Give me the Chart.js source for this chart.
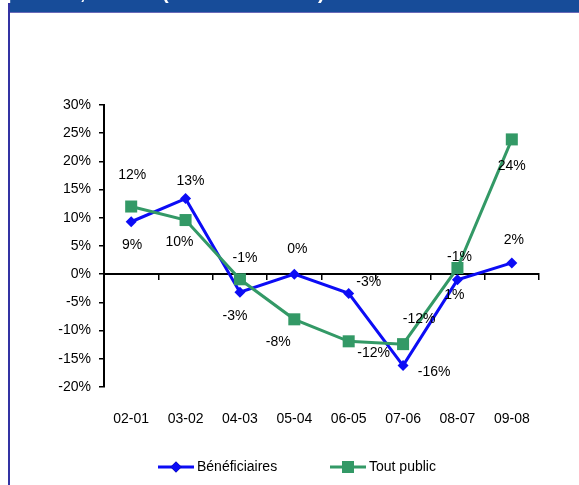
<!DOCTYPE html>
<html><head><meta charset="utf-8">
<script src="https://cdn.jsdelivr.net/npm/chart.js@4"></script>
<style>html,body{margin:0;padding:0;background:#fff;}#wrap{width:579px;height:485px;position:relative;}canvas{display:block;}</style>
</head><body><div id="wrap"><canvas id="c" width="579" height="485"></canvas></div>
<script>
const categories = ['02-01','03-02','04-03','05-04','06-05','07-06','08-07','09-08'];
const seriesNames = ['Bénéficiaires','Tout public'];
const beneficiaires = [9.3, 13.4, -3.2, 0.0, -3.4, -16.2, -1.0, 2.0];
const toutPublic = [12.0, 9.6, -0.9, -8.0, -11.9, -12.4, 1.1, 23.9];
const yMin = -20, yMax = 30, yStep = 5;

const BLUE = '#0c0cf5';
const GREEN = '#339966';
const FONT = '"Liberation Sans", Arial, sans-serif';

// label offsets (pixels, relative to the point) per dataset
const labelOffsets = [
  [[1,23],[5,-17],[-5,24],[3,-25],[20,-11],[31,7],[2,-23],[2,-23]],
  [[1,-31],[-6,22],[5,-21],[-16,23],[25,12],[16,-25],[-3,27],[0,27]]
];

const decor = {
  id: 'decor',
  beforeDraw(chart) {
    const ctx = chart.ctx;
    ctx.save();
    ctx.fillStyle = '#fff';
    ctx.fillRect(0, 0, chart.width, chart.height);
    ctx.fillStyle = '#174c99';
    ctx.fillRect(8, 0, chart.width - 8, 12);
    ctx.fillStyle = '#6a6ab8';
    ctx.fillRect(8, 12, chart.width - 8, 1);
    ctx.fillStyle = '#3333a3';
    ctx.fillRect(8, 0, 2, chart.height);
    // clipped title fragments
    ctx.fillStyle = '#fff';
    ctx.font = 'bold 20px ' + FONT;
    ctx.textBaseline = 'alphabetic';
    ctx.fillText('p', 6, -1);
    ctx.fillText(',', 80, -1);
    ctx.fillText('(', 162, -1);
    ctx.fillText(')', 318, -1);
    ctx.restore();
  },
  afterDraw(chart) {
    const ctx = chart.ctx;
    ctx.save();
    ctx.font = '14px ' + FONT;
    ctx.fillStyle = '#000';
    ctx.textAlign = 'center';
    ctx.textBaseline = 'middle';
    chart.data.datasets.forEach((ds, di) => {
      const meta = chart.getDatasetMeta(di);
      meta.data.forEach((pt, i) => {
        const v = ds.data[i];
        const off = labelOffsets[di][i];
        ctx.fillText(Math.round(v) + '%', pt.x + off[0], pt.y + off[1]);
      });
    });
    // legend
    const ly = 467;
    const items = [
      {x: 158, ds: chart.data.datasets[0]},
      {x: 330, ds: chart.data.datasets[1]}
    ];
    items.forEach(it => {
      ctx.strokeStyle = it.ds.borderColor;
      ctx.lineWidth = 3;
      ctx.beginPath();
      ctx.moveTo(it.x, ly);
      ctx.lineTo(it.x + 36, ly);
      ctx.stroke();
      Chart.helpers.drawPoint(ctx, {pointStyle: it.ds.pointStyle, radius: it.ds.pointRadius, borderWidth: 0}, it.x + 18, ly);
      ctx.fillStyle = it.ds.backgroundColor;
      ctx.fill();
      ctx.fillStyle = '#000';
      ctx.textAlign = 'left';
      ctx.fillText(it.ds.label, it.x + 39, ly);
    });
    ctx.restore();
  }
};

new Chart(document.getElementById('c'), {
  type: 'line',
  data: {
    labels: categories,
    datasets: [
      {label: seriesNames[0], data: beneficiaires, borderColor: BLUE, backgroundColor: BLUE,
       borderWidth: 3, pointStyle: 'rectRot', pointRadius: 5.5, pointBorderWidth: 0, tension: 0, order: 1, xAxisID: 'x', clip: false},
      {label: seriesNames[1], data: toutPublic, borderColor: GREEN, backgroundColor: GREEN,
       borderWidth: 3, pointStyle: 'rect', pointRadius: 8.5, pointBorderWidth: 0, tension: 0, order: 0, xAxisID: 'x', clip: false}
    ]
  },
  options: {
    responsive: false,
    devicePixelRatio: 1,
    animation: false,
    layout: {padding: {left: 0, top: 105, right: 40, bottom: 50}},
    plugins: {legend: {display: false}, tooltip: {enabled: false}},
    scales: {
      x: {
        type: 'category', position: 'bottom', offset: true,
        grid: {display: false, drawTicks: false},
        border: {display: false},
        ticks: {color: '#000', font: {family: FONT, size: 14}, padding: 24, maxRotation: 0, autoSkip: false},
        afterFit(s) { s.height = 48; }
      },
      x2: {
        type: 'category', labels: categories, position: {y: 0}, offset: true,
        grid: {drawOnChartArea: false, drawTicks: true, tickLength: 5, color: '#000', lineWidth: 1.5, offset: true},
        border: {display: true, color: '#000', width: 2},
        ticks: {display: false}
      },
      y: {
        min: yMin, max: yMax,
        grid: {drawOnChartArea: false, drawTicks: true, tickLength: 5, color: '#000', lineWidth: 1.5},
        border: {display: true, color: '#000', width: 2},
        ticks: {stepSize: yStep, color: '#000', font: {family: FONT, size: 14}, padding: 8,
                callback: v => v + '%'},
        afterFit(s) { s.width = 104; }
      }
    }
  },
  plugins: [decor]
});
</script>
</body></html>
